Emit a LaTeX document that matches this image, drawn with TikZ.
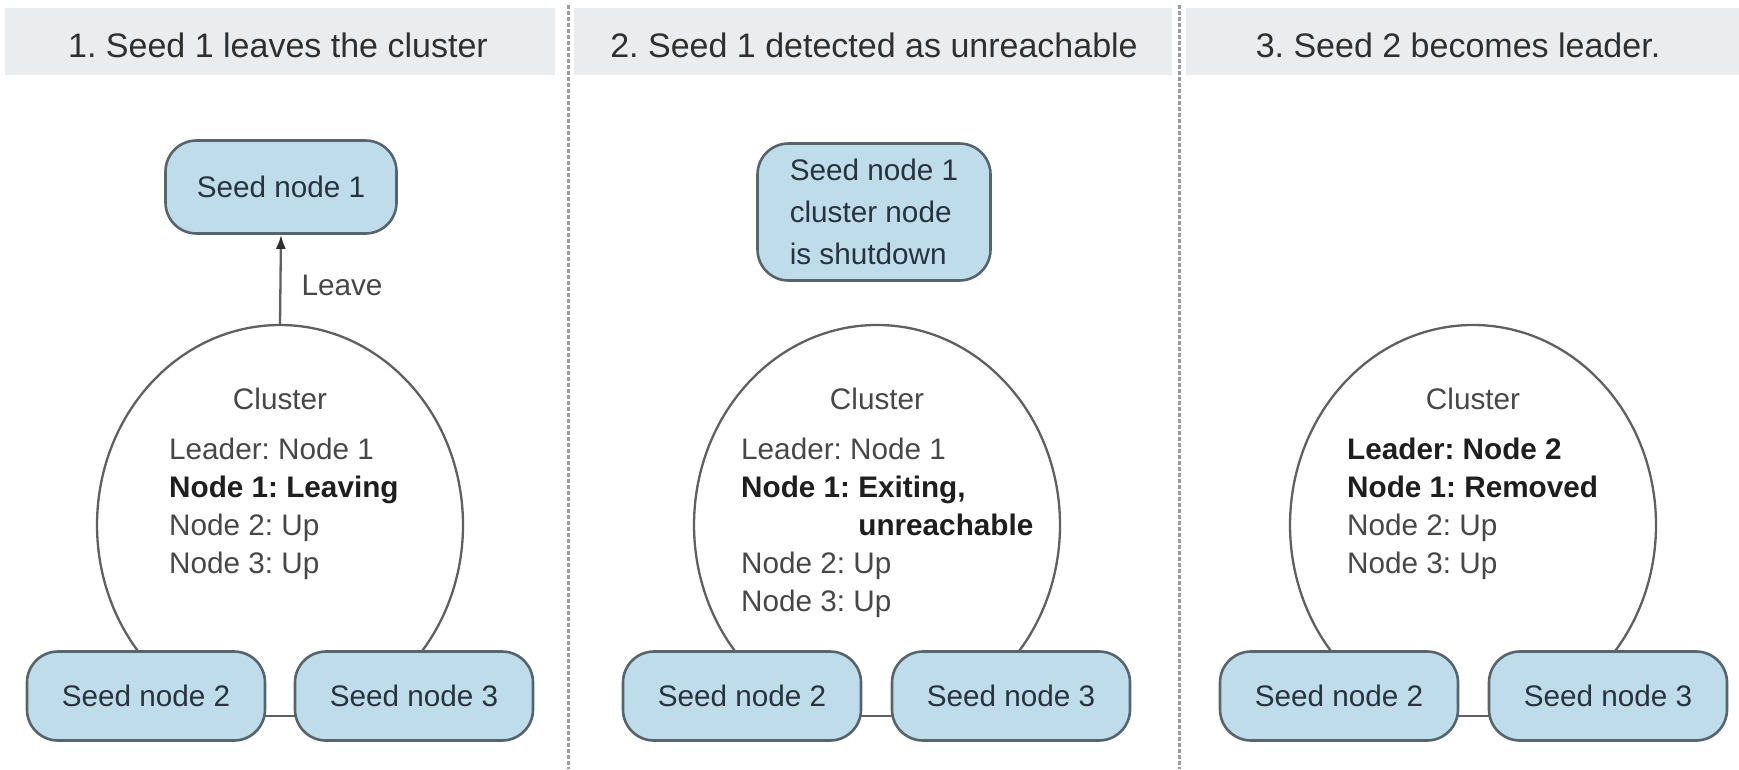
\documentclass[tikz,border=0pt]{standalone}
\usepackage{fontspec}
\setmainfont{Liberation Sans}
\usetikzlibrary{arrows.meta,backgrounds}
\frenchspacing

\definecolor{bandgray}{HTML}{EBECEE}
\definecolor{headtext}{HTML}{2F2F2F}
\definecolor{seedfill}{HTML}{BEDCE9}
\definecolor{seededge}{HTML}{56646C}
\definecolor{seedtext}{HTML}{27343F}
\definecolor{listgray}{HTML}{474747}
\definecolor{listdark}{HTML}{1E1E1E}
\definecolor{ringgray}{HTML}{606060}
\definecolor{sepgray}{HTML}{9C9C9C}

\newcommand\bodysize{\fontsize{29.7}{38}\selectfont}
\newcommand\seedsize{\fontsize{29.7}{42}\selectfont}
\newcommand\headsize{\fontsize{34}{40}\selectfont}
\newcommand\statebold[1]{\textcolor{listdark}{\bfseries #1}}

\tikzset{
  band/.style={fill=bandgray, draw=none},
  headline/.style={font=\headsize, text=headtext, inner sep=0pt},
  separator/.style={draw=sepgray, line width=3pt, dash pattern=on 4pt off 2pt},
  seedbox/.style={draw=seededge, line width=2.6pt, fill=seedfill,
    rounded corners=31pt, minimum width=238pt, minimum height=89pt,
    inner sep=0pt, font=\seedsize, text=seedtext, align=left},
  ring/.style={draw=ringgray, line width=2.3pt},
  ringtitle/.style={font=\bodysize, text=listgray, inner sep=0pt},
  statelist/.style={anchor=north west, align=left, inner sep=0pt,
    font=\bodysize, text=listgray},
  link/.style={draw=ringgray, line width=2.6pt},
  leavearrow/.style={draw=ringgray, line width=2.3pt,
    -{Latex[length=14pt,width=10pt,color=headtext]}},
  edgelabel/.style={font=\bodysize, text=listgray, inner sep=0pt}
}

\begin{document}
\begin{tikzpicture}[x=1pt,y=1pt]
  \useasboundingbox (0,0) rectangle (1739,-769);

  % title bands
  \fill[band] (5,-8) rectangle (555,-75);
  \fill[band] (574,-8) rectangle (1172,-75);
  \fill[band] (1186,-8) rectangle (1739,-75);
  \node[headline] (h1) at (278,-45) {1. Seed 1 leaves the cluster};
  \node[headline] (h2) at (874,-45) {2. Seed 1 detected as unreachable};
  \node[headline] (h3) at (1458,-45) {3. Seed 2 becomes leader.};

  % panel separators
  \draw[separator] (568,-5) -- (568,-769);
  \draw[separator] (1179,-5) -- (1179,-769);

  % cluster outlines (open at the bottom, tucked under the seed nodes)
  \draw[ring] (416.0,-658.8) arc[start angle=-42,end angle=222,x radius=183pt,y radius=200pt];
  \draw[ring] (1013.0,-658.8) arc[start angle=-42,end angle=222,x radius=183pt,y radius=200pt];
  \draw[ring] (1609.0,-658.8) arc[start angle=-42,end angle=222,x radius=183pt,y radius=200pt];
  \coordinate (top1) at (280,-325);

  % ---- panel 1 ----
  \node[seedbox, minimum width=231pt, minimum height=93pt] (s1a) at (281,-187) {Seed node 1};
  \draw[leavearrow] (top1) -- (s1a.south);
  \node[edgelabel] (leave) at (342,-285) {Leave};
  \node[ringtitle] (c1) at (280,-399) {Cluster};
  \node[statelist] (l1) at (169,-437.5) {Leader: Node 1\\
    \statebold{Node 1: Leaving}\\
    Node 2: Up\\
    Node 3: Up};
  \node[seedbox] (s2a) at (146,-696) {Seed node 2};
  \node[seedbox] (s3a) at (414,-696) {Seed node 3};

  % ---- panel 2 ----
  \node[seedbox, minimum width=233pt, minimum height=137pt] (s1b) at (874,-212)
    {Seed node 1\\cluster node\\is shutdown};
  \node[ringtitle] (c2) at (877,-399) {Cluster};
  \node[statelist] (l2) at (741,-437.5) {Leader: Node 1\\
    \statebold{Node 1: Exiting,}\\
    \statebold{\phantom{Node 1: }unreachable}\\
    Node 2: Up\\
    Node 3: Up};
  \node[seedbox] (s2b) at (742,-696) {Seed node 2};
  \node[seedbox] (s3b) at (1011,-696) {Seed node 3};

  % ---- panel 3 ----
  \node[ringtitle] (c3) at (1473,-399) {Cluster};
  \node[statelist] (l3) at (1347,-437.5) {\statebold{Leader: Node 2}\\
    \statebold{Node 1: Removed}\\
    Node 2: Up\\
    Node 3: Up};
  \node[seedbox] (s2c) at (1339,-696) {Seed node 2};
  \node[seedbox] (s3c) at (1608,-696) {Seed node 3};

  % links between the lower seed nodes, kept behind the boxes
  \begin{scope}[on background layer]
    \fill[white] (0,0) rectangle (1739,-769);
    \draw[link] ([yshift=-20pt]s2a.center) -- ([yshift=-20pt]s3a.center);
    \draw[link] ([yshift=-20pt]s2b.center) -- ([yshift=-20pt]s3b.center);
    \draw[link] ([yshift=-20pt]s2c.center) -- ([yshift=-20pt]s3c.center);
  \end{scope}
\end{tikzpicture}
\end{document}
